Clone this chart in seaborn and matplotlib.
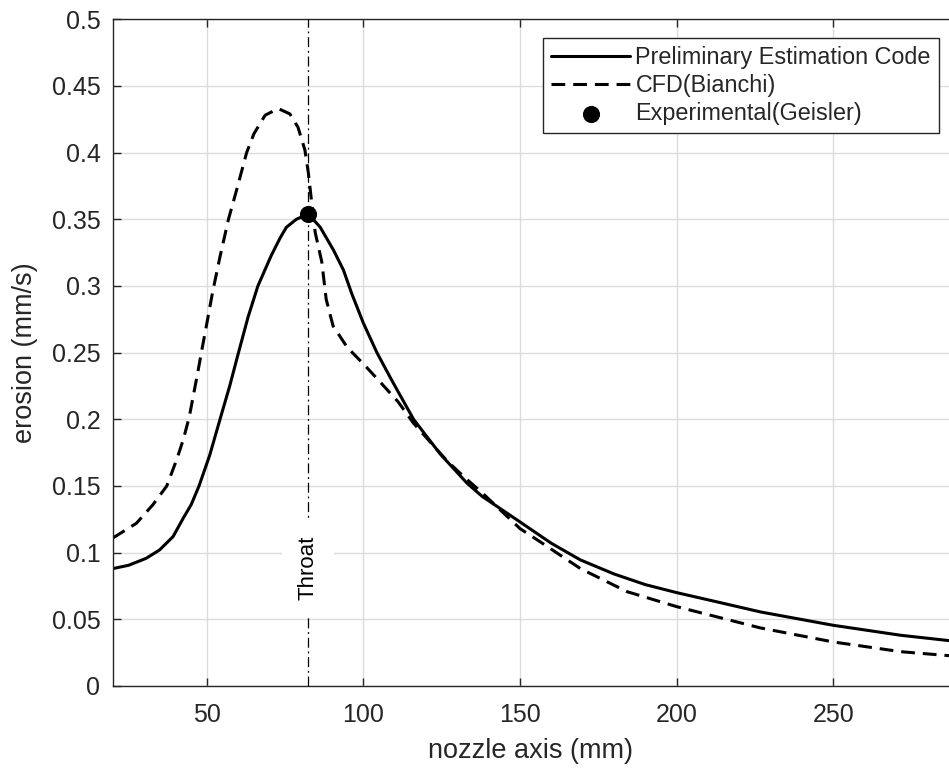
# Erosion rate along the nozzle axis: estimation code vs CFD vs experiment
import numpy as np
import pandas as pd
import matplotlib
matplotlib.use("Agg")
import matplotlib.pyplot as plt
import seaborn as sns

# data
prelim_x = [20, 25, 30.6, 34.9, 39.2, 42.5, 45, 47.5, 50.9, 54.2, 57.3, 60.1, 63.2,
            66.3, 70.6, 73.4, 75.4, 78.6, 82.4, 86.2, 90.4, 93.6, 96.3, 100, 104.3,
            109.1, 116, 124.5, 133.1, 138, 143.7, 150, 160, 169.3, 180, 190, 200,
            213, 226.8, 250, 271.6, 287]
prelim_y = [0.088, 0.0905, 0.0957, 0.102, 0.112, 0.126, 0.136, 0.150, 0.173, 0.200,
            0.225, 0.250, 0.277, 0.300, 0.323, 0.336, 0.344, 0.350, 0.354, 0.344,
            0.327, 0.312, 0.294, 0.272, 0.250, 0.229, 0.200, 0.174, 0.152, 0.142,
            0.133, 0.123, 0.107, 0.0945, 0.084, 0.076, 0.0700, 0.063, 0.0555,
            0.0455, 0.038, 0.034]

cfd_x = [20, 27.5, 32.8, 37.2, 40.4, 42.5, 44.4, 45.7, 47, 48.4, 50, 51.8, 54.2,
         56.9, 59.5, 62.7, 65, 68.6, 72.8, 76.5, 79.1, 81.3, 82.4, 83.5, 84.6,
         86.7, 88.1, 90.3, 94.8, 100.2, 105.7, 111.1, 116, 121.3, 127, 133, 138.3,
         143.7, 150, 156.5, 169.3, 184.2, 200, 206.7, 226.8, 250, 271.6, 287]
cfd_y = [0.111, 0.122, 0.136, 0.150, 0.170, 0.185, 0.202, 0.218, 0.234, 0.252,
         0.272, 0.295, 0.322, 0.350, 0.372, 0.400, 0.414, 0.428, 0.433, 0.429,
         0.419, 0.402, 0.385, 0.362, 0.340, 0.318, 0.290, 0.270, 0.254, 0.241,
         0.227, 0.213, 0.197, 0.183, 0.168, 0.155, 0.144, 0.132, 0.118, 0.108,
         0.088, 0.0707, 0.0595, 0.0555, 0.0435, 0.033, 0.0257, 0.0227]

exp_x = [82.4]
exp_y = [0.354]

throat_x = 82.4

x_ticks = [50, 100, 150, 200, 250]
y_ticks = [0, 0.05, 0.1, 0.15, 0.2, 0.25, 0.3, 0.35, 0.4, 0.45, 0.5]
y_tick_labels = ["0", "0.05", "0.1", "0.15", "0.2", "0.25", "0.3", "0.35", "0.4", "0.45", "0.5"]

prelim_df = pd.DataFrame({"x": prelim_x, "y": prelim_y})
cfd_df = pd.DataFrame({"x": cfd_x, "y": cfd_y})
exp_df = pd.DataFrame({"x": exp_x, "y": exp_y})

sns.set_style("ticks")
plt.rcParams["font.family"] = ["Liberation Sans", "DejaVu Sans"]

axis_grey = "#262626"

fig = plt.figure(figsize=(9.49, 7.69), dpi=100)
ax = fig.add_axes([0.119, 0.108, 0.881, 0.867])

sns.lineplot(data=prelim_df, x="x", y="y", ax=ax, color="black", lw=2.2,
             estimator=None, sort=False, label="Preliminary Estimation Code")
sns.lineplot(data=cfd_df, x="x", y="y", ax=ax, color="black", lw=2.2,
             estimator=None, sort=False, label="CFD(Bianchi)")
ax.lines[-1].set_dashes((4.5, 2.6))
sns.scatterplot(data=exp_df, x="x", y="y", ax=ax, color="black", s=130,
                marker="o", edgecolor="black", zorder=5,
                label="Experimental(Geisler)")

# throat marker line with label
ax.axvline(throat_x, color="black", lw=0.9, linestyle=(0, (8, 3, 1.5, 3)), zorder=3)
ax.text(throat_x, 0.0885, "Throat", rotation=90, ha="center", va="center",
        fontsize=16, color="black", zorder=4,
        bbox=dict(facecolor="white", edgecolor="none", pad=11))

ax.set_xlim(20, 287)
ax.set_ylim(0, 0.5)
ax.set_xticks(x_ticks)
ax.set_yticks(y_ticks)
ax.set_yticklabels(y_tick_labels)

ax.grid(True, color="#dcdcdc", lw=1.0)
ax.set_axisbelow(True)

ax.tick_params(axis="both", direction="in", length=6, width=1.0, color=axis_grey,
               labelcolor=axis_grey, labelsize=18, top=True, right=False)
ax.tick_params(axis="x", pad=12)
ax.tick_params(axis="y", pad=9)
for side in ["left", "bottom", "top"]:
    ax.spines[side].set_color(axis_grey)
    ax.spines[side].set_linewidth(1.0)
ax.spines["right"].set_visible(False)

ax.set_xlabel("nozzle axis (mm)", fontsize=19.5, color=axis_grey, labelpad=8)
ax.set_ylabel("erosion (mm/s)", fontsize=19.5, color=axis_grey, labelpad=10)

leg = ax.legend(loc="upper right", bbox_to_anchor=(0.988, 0.972), borderaxespad=0,
                fontsize=16.8, frameon=True, fancybox=False, framealpha=1,
                edgecolor=axis_grey, handlelength=3.35, handletextpad=0.25,
                labelspacing=0.22, borderpad=0.35)
leg.get_frame().set_linewidth(1.0)

fig.savefig("out.png", dpi=100)
